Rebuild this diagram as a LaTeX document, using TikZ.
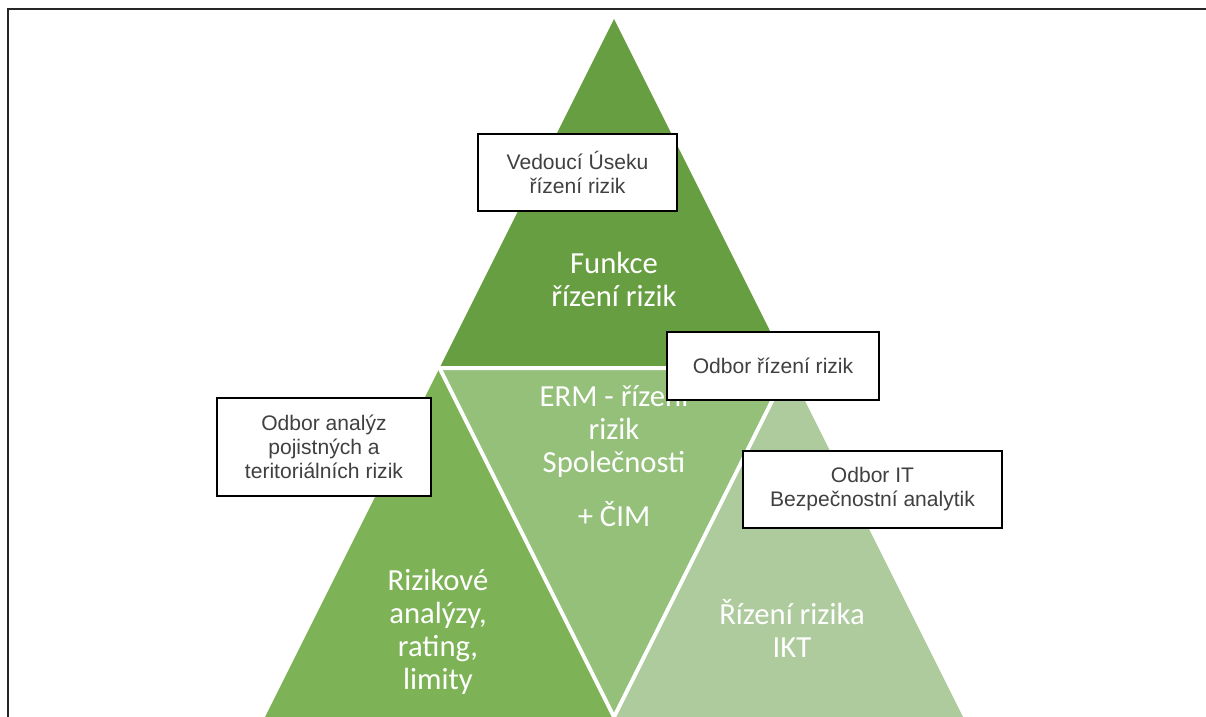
\documentclass[tikz,border=0pt]{standalone}
\usepackage{fontspec}
\setmainfont{Carlito}
\newfontfamily\boxfont{Liberation Sans}
\usepackage{tikz}

\definecolor{topgreen}{RGB}{104,158,66}
\definecolor{leftgreen}{RGB}{125,179,86}
\definecolor{midgreen}{RGB}{148,192,122}
\definecolor{rightgreen}{RGB}{174,203,158}
\definecolor{boxgray}{RGB}{64,64,64}

\begin{document}
\begin{tikzpicture}[x=0.75pt,y=-0.75pt,
   tritext/.style={text=white,align=center,font=\fontsize{23}{24.75}\selectfont},
   rolebox/.style={draw=black,line width=1pt,fill=white,align=center,inner sep=0pt,
                   text=boxgray,font=\boxfont\fontsize{15.8}{18}\selectfont},
   divider/.style={white,line width=3pt}]
   \useasboundingbox (0,0) rectangle (1206,717);

   % frame of the figure
   \draw[line width=1.1pt,black!85] (8,717) -- (8,9) -- (1206,9);

   % the pyramid
   \coordinate (apex) at (614,19);
   \coordinate (bl) at (265,717);
   \coordinate (br) at (963,717);
   \coordinate (ml) at (439.5,368);
   \coordinate (mr) at (788.5,368);
   \coordinate (mb) at (614,717);

   \fill[topgreen]   (apex) -- (ml) -- (mr) -- cycle;
   \fill[leftgreen]  (ml) -- (bl) -- (mb) -- cycle;
   \fill[midgreen]   (ml) -- (mr) -- (mb) -- cycle;
   \fill[rightgreen] (mr) -- (mb) -- (br) -- cycle;
   \draw[divider] (ml) -- (mr) -- (mb) -- cycle;

   \node[tritext] (funkce) at (614,279) {Funkce\\řízení rizik};
   \node[tritext] (erm) at (614,456) {ERM - řízení\\rizik\\Společnosti\\[16pt]+ ČIM};
   \node[tritext] (analyzy) at (438,632) {Rizikové\\analýzy,\\rating,\\limity};
   \node[tritext] (ikt) at (792,628) {Řízení rizika\\IKT};

   % responsible units
   \node[rolebox,minimum width=149.25pt,minimum height=57.75pt] (vedouci) at (577.5,172.5)
        {Vedoucí Úseku\\řízení rizik};
   \node[rolebox,minimum width=159pt,minimum height=51pt] (odbor) at (773,366)
        {Odbor řízení rizik};
   \node[rolebox,minimum width=160.5pt,minimum height=73.5pt] (pojistne) at (324,447)
        {Odbor analýz\\pojistných a\\teritoriálních rizik};
   \node[rolebox,minimum width=194.25pt,minimum height=57.75pt] (it) at (872.5,489.5)
        {Odbor IT\\Bezpečnostní analytik};
\end{tikzpicture}
\end{document}
